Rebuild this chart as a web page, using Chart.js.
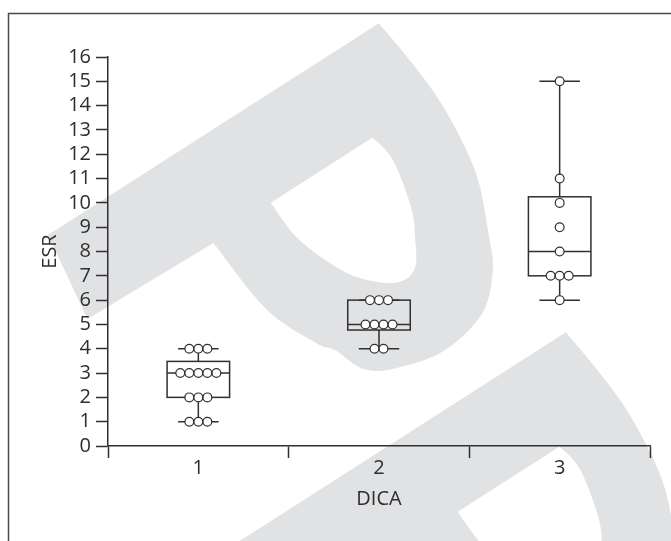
<!DOCTYPE html>
<html>
<head>
<meta charset="utf-8">
<script src="https://cdn.jsdelivr.net/npm/chart.js@4.4.1/dist/chart.umd.min.js"></script>
<style>
  html, body { margin: 0; padding: 0; background: #fff; }
  canvas { display: block; }
</style>
</head>
<body>
<canvas id="esrChart" width="671" height="541"></canvas>
<script>
// DICA groups on the x axis, ESR readings for each group
const categories = ['1', '2', '3'];
const dica1 = [4, 4, 4, 3, 3, 3, 3, 3, 2, 2, 2, 1, 1, 1];
const dica2 = [6, 6, 6, 5, 5, 5, 5, 4, 4];
const dica3 = [15, 11, 10, 9, 8, 7, 7, 7, 6];

// box plot summary
const whiskerLow = [1, 4, 6];
const q1 = [2, 4.77, 7];
const median = [3, 5, 8];
const q3 = [3.48, 6, 10.25];
const whiskerHigh = [4, 6, 15];

const yTicks = { min: 0, max: 16, step: 1 };

const INK = '#303030';
const TEXT = '#2e2e2e';
const BOX_HALF = 0.173;   // in x units
const CAP_HALF = 0.112;
const DOT_GAP = 0.05;

// spread equal values side by side like a dot plot
function dotPoints(values, group) {
  const counts = {};
  values.forEach(v => { counts[v] = (counts[v] || 0) + 1; });
  const seen = {};
  return values.map(v => {
    const i = seen[v] || 0;
    seen[v] = i + 1;
    return { x: group + (i - (counts[v] - 1) / 2) * DOT_GAP, y: v };
  });
}

const points = [
  ...dotPoints(dica1, 1),
  ...dotPoints(dica2, 2),
  ...dotPoints(dica3, 3)
];

// light grey publisher mark behind the plot
function smooth(ctx, pts) {
  for (let i = 0; i < pts.length - 1; i++) {
    const p0 = pts[i - 1] || pts[i], p1 = pts[i], p2 = pts[i + 1], p3 = pts[i + 2] || pts[i + 1];
    ctx.bezierCurveTo(
      p1[0] + (p2[0] - p0[0]) / 6, p1[1] + (p2[1] - p0[1]) / 6,
      p2[0] - (p3[0] - p1[0]) / 6, p2[1] - (p3[1] - p1[1]) / 6,
      p2[0], p2[1]);
  }
}

function drawMark(ctx, ox, oy) {
  ctx.save();
  ctx.setTransform(0.842, -0.539, 0.539, 0.842, ox, oy);
  ctx.beginPath();
  ctx.moveTo(-12, 92);
  ctx.lineTo(0, 0);
  ctx.lineTo(393, 0);
  smooth(ctx, [[393, 0], [400, 57], [402, 109], [394, 178], [372, 236], [356, 269], [324, 300],
    [273, 311], [228, 302], [195, 285], [180, 252], [168, 236], [144, 181], [135, 96]]);
  ctx.closePath();
  ctx.moveTo(205, 93);
  ctx.lineTo(326, 93);
  smooth(ctx, [[326, 93], [331, 123], [321, 172], [309, 198], [291, 226], [268, 228],
    [240, 205], [222, 175], [208, 135], [205, 93]]);
  ctx.closePath();
  ctx.fillStyle = '#e1e2e4';
  ctx.fill('evenodd');
  ctx.restore();
}

const backdrop = {
  id: 'backdrop',
  beforeDraw(chart) {
    const ctx = chart.ctx;
    ctx.save();
    ctx.fillStyle = '#fff';
    ctx.fillRect(0, 0, chart.width, chart.height);
    drawMark(ctx, 48, 235);
    drawMark(ctx, 235, 544);
    ctx.strokeStyle = '#4a4a4a';
    ctx.lineWidth = 1.5;
    ctx.strokeRect(8.5, 13.5, 720, 600);
    ctx.restore();
  }
};

const boxes = {
  id: 'boxes',
  beforeDatasetsDraw(chart) {
    const { ctx, scales: { x, y } } = chart;
    ctx.save();
    ctx.strokeStyle = INK;
    ctx.lineWidth = 1.5;
    categories.forEach((c, i) => {
      const g = i + 1;
      const cx = x.getPixelForValue(g);
      const bl = x.getPixelForValue(g - BOX_HALF), br = x.getPixelForValue(g + BOX_HALF);
      const cl = x.getPixelForValue(g - CAP_HALF), cr = x.getPixelForValue(g + CAP_HALF);
      ctx.beginPath();
      // whiskers
      ctx.moveTo(cx, y.getPixelForValue(whiskerLow[i]));
      ctx.lineTo(cx, y.getPixelForValue(q1[i]));
      ctx.moveTo(cx, y.getPixelForValue(q3[i]));
      ctx.lineTo(cx, y.getPixelForValue(whiskerHigh[i]));
      ctx.moveTo(cl, y.getPixelForValue(whiskerLow[i]));
      ctx.lineTo(cr, y.getPixelForValue(whiskerLow[i]));
      ctx.moveTo(cl, y.getPixelForValue(whiskerHigh[i]));
      ctx.lineTo(cr, y.getPixelForValue(whiskerHigh[i]));
      // median
      ctx.moveTo(bl, y.getPixelForValue(median[i]));
      ctx.lineTo(br, y.getPixelForValue(median[i]));
      ctx.stroke();
      const top = y.getPixelForValue(q3[i]), bot = y.getPixelForValue(q1[i]);
      ctx.strokeRect(bl, top, br - bl, bot - top);
    });
    ctx.restore();
  }
};

Chart.defaults.font.family = "'Open Sans', sans-serif";
Chart.defaults.color = TEXT;

new Chart(document.getElementById('esrChart'), {
  type: 'scatter',
  data: {
    datasets: [{
      label: 'ESR',
      data: points,
      pointRadius: 4.4,
      pointBorderWidth: 1.2,
      pointBorderColor: INK,
      pointBackgroundColor: '#fff'
    }]
  },
  options: {
    responsive: false,
    animation: false,
    devicePixelRatio: 1,
    layout: { padding: { top: 57, right: 21, left: 0, bottom: 0 } },
    plugins: {
      legend: { display: false },
      tooltip: { enabled: false }
    },
    scales: {
      x: {
        type: 'linear',
        min: 0.5,
        max: 3.5,
        afterFit: s => { s.height = 95; },
        ticks: {
          stepSize: 0.5,
          autoSkip: false,
          maxRotation: 0,
          padding: 0,
          font: { size: 20, lineHeight: 1 },
          callback: v => Number.isInteger(v) ? categories[v - 1] : ''
        },
        grid: {
          drawOnChartArea: false,
          tickLength: 12,
          tickWidth: 1.5,
          tickColor: c => Number.isInteger(c.tick.value) ? 'rgba(0,0,0,0)' : INK
        },
        border: { color: INK, width: 1.5 },
        title: { display: true, text: 'DICA', font: { size: 20 }, padding: { top: 0, bottom: 30 } }
      },
      y: {
        min: yTicks.min,
        max: yTicks.max,
        afterFit: s => { s.width = 108; },
        ticks: {
          stepSize: yTicks.step,
          autoSkip: false,
          padding: 5,
          font: { size: 20, lineHeight: 1 }
        },
        grid: {
          drawOnChartArea: false,
          tickLength: 12,
          tickWidth: 1.5,
          tickColor: INK
        },
        border: { color: INK, width: 1.5 },
        title: { display: true, text: 'ESR', font: { size: 20 }, padding: { top: 38, bottom: 0 } }
      }
    }
  },
  plugins: [backdrop, boxes]
});
</script>
</body>
</html>
